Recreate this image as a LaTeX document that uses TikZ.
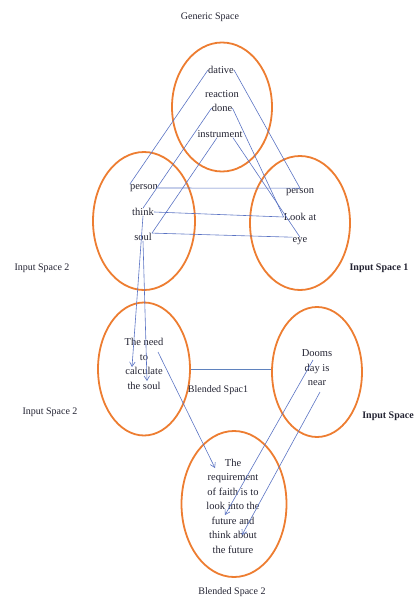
\documentclass[tikz,border=0pt]{standalone}
\usepackage{fontspec}
\setmainfont{Liberation Serif}
\usetikzlibrary{shapes.geometric,arrows.meta}
\definecolor{orng}{RGB}{237,125,49}
\definecolor{blu}{RGB}{90,115,195}
\definecolor{bluh}{RGB}{95,130,190}
\definecolor{txt}{RGB}{35,35,50}
\begin{document}
\begin{tikzpicture}[x=1pt,y=-1pt,
  space/.style={draw=orng,line width=1.8pt,ellipse,inner sep=0pt},
  word/.style={font=\fontsize{10.5}{14.5}\selectfont,text=txt,inner sep=0pt,align=center},
  lab/.style={font=\fontsize{10}{12}\selectfont,text=txt,inner sep=0pt},
  boldlab/.style={font=\fontsize{10}{12}\selectfont\bfseries,text=txt,inner sep=0pt},
  link/.style={draw=blu,line width=0.6pt},
  hlink/.style={draw=bluh,line width=1pt},
  arr/.style={link,-{Straight Barb[length=4.5pt,width=5.5pt]}}]
\useasboundingbox (0,0) rectangle (419,599);
% spaces
\node[space,minimum width=100pt,minimum height=129pt] (gen) at (222,107) {};
\node[space,minimum width=102pt,minimum height=138pt] (in2) at (144,221) {};
\node[space,minimum width=100pt,minimum height=134pt] (in1) at (300,223) {};
\node[space,minimum width=92pt,minimum height=133pt] (b1) at (144,369) {};
\node[space,minimum width=90pt,minimum height=130pt] (in3) at (317,372) {};
\node[space,minimum width=105pt,minimum height=146pt] (b2) at (234,504) {};
% words
\node[word] (dative) at (221,70) {dative};
\node[word] (reaction) at (222,94) {reaction};
\node[word] (done) at (222,108) {done};
\node[word] (instr) at (220,134) {instrument};
\node[word] (personL) at (144,188) {person};
\node[word] (think) at (143,212) {think};
\node[word] (soul) at (143,237) {soul};
\node[word] (personR) at (300,192) {person};
\node[word] (lookat) at (300,217) {Look at};
\node[word] (eye) at (300,241) {eye};
\node[word] (need) at (144,364) {The need\\to\\calculate\\the soul};
\node[word] (dooms) at (317,368) {Dooms\\day is\\near};
\node[word] (faith) at (233,506) {The\\requirement\\of faith is to\\look into the\\future and\\think about\\the future};
% labels
\node[lab] (lgen) at (210,17) {Generic Space};
\node[lab] (lin2a) at (42,268) {Input Space 2};
\node[boldlab] (lin1) at (379,268) {Input Space 1};
\node[lab] (lb1) at (218,390) {Blended Spac1};
\node[lab] (lin2b) at (50,412) {Input Space 2};
\node[boldlab] (lin3) at (388,416) {Input Space};
\node[lab] (lb2) at (232,592) {Blended Space 2};
% connectors
\draw[link] (dative.west) -- (personL.north west);
\draw[link] (dative.east) -- (personR.north);
\draw[link] (done.west) -- (think.north);
\draw[link] (done.east) -- (lookat.west);
\draw[link] ([xshift=-3pt]instr.south) -- (soul.north east);
\draw[link] ([xshift=13pt]instr.south) -- (eye.north);
\draw[link] (personL.east) -- (personR.north);
\draw[link] (think.east) -- (lookat.west);
\draw[link] (soul.north east) -- (eye.north west);
\draw[arr] (think.south) -- ([xshift=-12pt,yshift=-3pt]need.center);
\draw[arr] (soul.south) -- ([xshift=3pt,yshift=-17pt]need.center);
\draw[arr] ([xshift=14pt,yshift=12pt]need.center) -- ([xshift=-18pt,yshift=38pt]faith.center);
\draw[hlink] (b1.east) -- (b1.east -| in3.west);
\draw[arr] ([xshift=-4pt,yshift=8pt]dooms.center) -- ([xshift=-8pt,yshift=-9pt]faith.center);
\draw[arr] ([xshift=3pt,yshift=-24pt]dooms.center) -- ([xshift=9pt,yshift=-29pt]faith.center);
\end{tikzpicture}
\end{document}
